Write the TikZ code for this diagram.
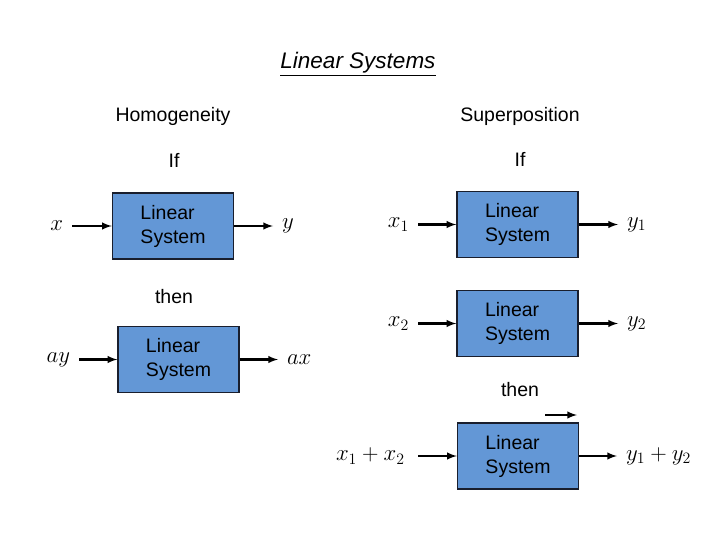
\documentclass[tikz,border=0pt]{standalone}
\usepackage{fontspec}
\setmainfont{Liberation Sans}
\usepackage{tikz}
\usetikzlibrary{arrows, positioning}
\definecolor{sysblue}{RGB}{99,151,214}
\definecolor{sysedge}{RGB}{25,30,45}

\begin{document}
\begin{tikzpicture}[x=1pt, y=-1pt]
		\tikzset{
			sys/.style={rectangle, draw=sysedge, line width=1.4pt, fill=sysblue, align=left,
			font=\fontsize{19.5}{24}\selectfont, minimum width=121pt, minimum height=66pt},
			sig/.style={font=\fontsize{20.74}{26}\selectfont, inner sep=8pt, scale=1.1},
			txt/.style={font=\fontsize{19.5}{23}\selectfont, inner sep=0pt},
			arrow/.style={-latex, line width=2.3pt}
		}
		\useasboundingbox (0,0) rectangle (720,540);
		\node[font=\fontsize{22.5}{26}\selectfont, inner sep=0pt] (title) at (358,64) {\underline{\textit{Linear Systems}}};
		\node[txt] (homog) at (173,116) {Homogeneity};
		\node[txt] (super) at (520,116) {Superposition};
		\node[txt] (ifl) at (174,160) {If};
		\node[txt] (ifr) at (520,159) {If};
		\node[txt] (thenl) at (174,297) {then};
		\node[txt] (thenr) at (520,390) {then};

		% homogeneity
		\node[sys] (hsys1) at (173,226) {Linear\\System};
		\node[sys] (hsys2) at (178.5,359.5) {Linear\\System};
		\node[sig, anchor=east] (hx) at (72,226) {$x$};
		\node[sig, anchor=west] (hy) at (273,226) {$y$};
		\node[sig, anchor=east] (hay) at (79,359.5) {$ay$};
		\node[sig, anchor=west] (hax) at (278,359.5) {$ax$};

		% superposition
		\node[sys] (ssys1) at (517.5,224.5) {Linear\\System};
		\node[sys] (ssys2) at (517.5,323.5) {Linear\\System};
		\node[sys] (ssys3) at (518,456) {Linear\\System};
		\node[sig, anchor=east] (sx1) at (418,224.5) {$x_1$};
		\node[sig, anchor=west] (sy1) at (618,224.5) {$y_1$};
		\node[sig, anchor=east] (sx2) at (418,323.5) {$x_2$};
		\node[sig, anchor=west] (sy2) at (618,323.5) {$y_2$};
		\node[sig, anchor=east, inner sep=12pt] (sx12) at (418,456) {$x_1+x_2$};
		\node[sig, anchor=west] (sy12) at (617,456) {$y_1+y_2$};
		\coordinate (stray1) at (545,415);
		\coordinate (stray2) at (577,415);

		\draw[arrow](hx) -- (hsys1);
		\draw[arrow](hsys1) -- (hy);
		\draw[arrow](hay) -- (hsys2);
		\draw[arrow](hsys2) -- (hax);
		\draw[arrow](sx1) -- (ssys1);
		\draw[arrow](ssys1) -- (sy1);
		\draw[arrow](sx2) -- (ssys2);
		\draw[arrow](ssys2) -- (sy2);
		\draw[arrow](sx12) -- (ssys3);
		\draw[arrow](ssys3) -- (sy12);
		\draw[arrow](stray1) -- (stray2);
	\end{tikzpicture}
\end{document}
